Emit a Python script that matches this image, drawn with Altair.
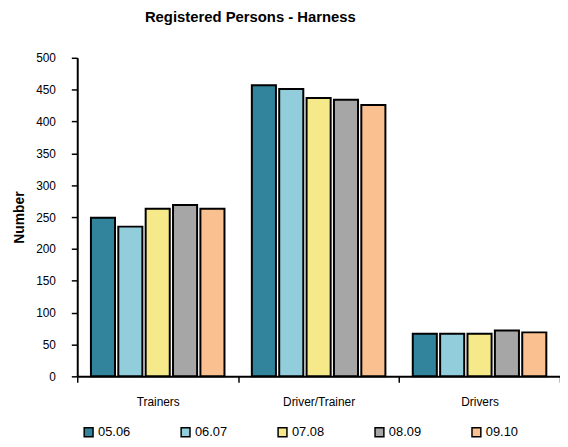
import altair as alt
import pandas as pd

categories = ["Trainers", "Driver/Trainer", "Drivers"]
seasons = ["05.06", "06.07", "07.08", "08.09", "09.10"]
values = {
    "05.06": [249, 457, 67],
    "06.07": [235, 451, 67],
    "07.08": [263, 437, 67],
    "08.09": [269, 434, 72],
    "09.10": [263, 426, 69],
}
colors = ["#31849B", "#92CDDC", "#F6E98A", "#A6A6A6", "#FAC090"]
y_ticks = list(range(0, 501, 50))

rows = []
for s in seasons:
    for c, v in zip(categories, values[s]):
        rows.append({"Category": c, "Season": s, "Number": v})
df = pd.DataFrame(rows)

FONT = "Liberation Sans Narrow, Liberation Sans, Arial"

chart = alt.Chart(df).mark_bar(stroke="black", strokeWidth=2).encode(
    x=alt.X("Category:N", sort=categories,
            scale=alt.Scale(paddingInner=0, paddingOuter=0),
            axis=alt.Axis(title=None, labelAngle=0, tickBand="extent",
                          labelPadding=14, tickSize=6, labelFontSize=12)),
    xOffset=alt.XOffset("Season:N", sort=seasons,
                        scale=alt.Scale(paddingInner=0.12, paddingOuter=0.5)),
    y=alt.Y("Number:Q", scale=alt.Scale(domain=[0, 500], nice=False),
            axis=alt.Axis(values=y_ticks, title="Number", tickSize=6,
                          labelPadding=16, titleFontWeight="bold",
                          titleFontSize=14, titlePadding=9, labelFontSize=12)),
    color=alt.Color("Season:N", sort=seasons,
                    scale=alt.Scale(domain=seasons, range=colors),
                    legend=alt.Legend(title=None, orient="none", direction="horizontal",
                                      columns=5, legendX=5, legendY=372,
                                      symbolType="square", symbolSize=80,
                                      symbolStrokeColor="black", symbolStrokeWidth=1.5,
                                      labelFontSize=13, columnPadding=48,
                                      labelOffset=3)),
).properties(
    width=488, height=322,
    padding={"left": 70, "top": 48, "right": 0, "bottom": 60},
    autosize=alt.AutoSizeParams(type="none"),
    title=alt.Title("Registered Persons - Harness", fontSize=15, fontWeight="bold",
                    anchor="middle", dx=-69, offset=27, font=FONT),
).configure_axis(
    domainColor="black", domainWidth=2, tickColor="black", tickWidth=1.5,
    grid=False, labelColor="black", titleColor="black",
    labelFont=FONT, titleFont=FONT,
).configure_legend(labelFont=FONT, labelColor="black").configure_view(stroke=None)

chart.save("out.html", embed_options={"renderer": "svg", "actions": False})
